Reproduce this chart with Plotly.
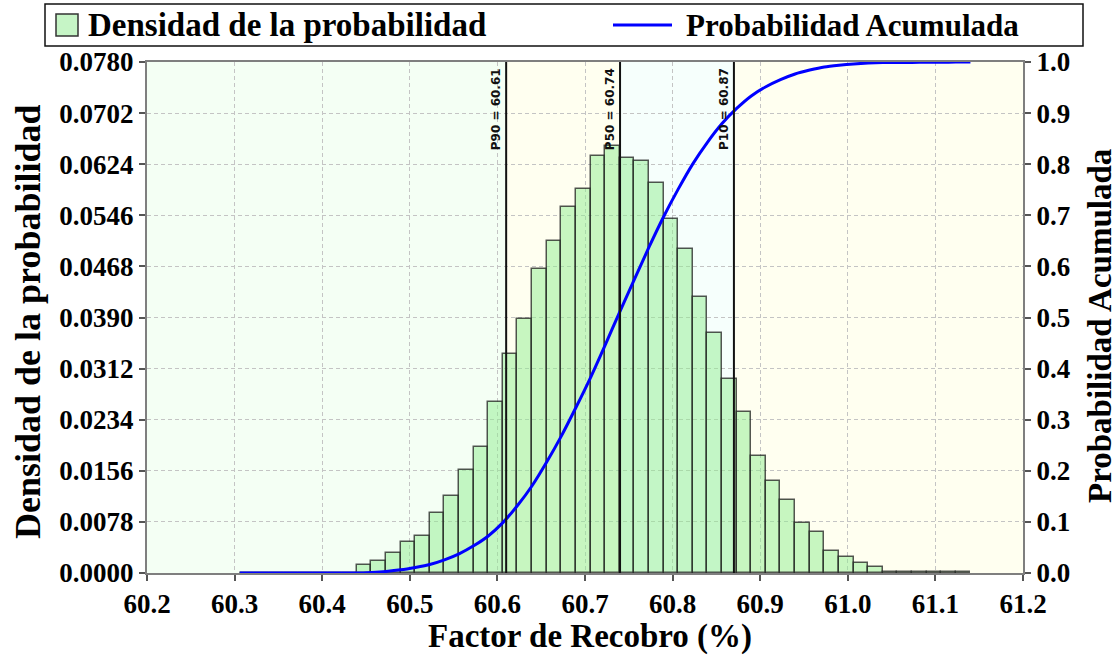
import plotly.graph_objects as go

# Histogram of the recovery factor (50 equal bins starting at the sample minimum)
x_min = 60.306
bin_width = 0.01668
density = [
    0.0, 0.0, 0.0, 0.0, 0.0, 0.0, 0.0, 0.0,
    0.0012, 0.0019, 0.0031, 0.0047, 0.0057, 0.0091, 0.0118, 0.0157,
    0.0193, 0.0261, 0.0334, 0.0388, 0.0464, 0.0507, 0.0559, 0.0586,
    0.0636, 0.0652, 0.0634, 0.0629, 0.0596, 0.0541, 0.0495, 0.0421,
    0.0367, 0.0296, 0.0245, 0.0179, 0.0140, 0.0111, 0.0076, 0.0062,
    0.0034, 0.0025, 0.0016, 0.0009, 0.0002, 0.0002, 0.0001, 0.0001,
    0.0001, 0.0001,
]
# Cumulative probability at each bin edge
cdf = [
    0.0, 0.0, 0.0, 0.0, 0.0, 0.0, 0.0, 0.0, 0.0,
    0.0012, 0.0031, 0.0062, 0.0109, 0.0166, 0.0257, 0.0375, 0.0532,
    0.0725, 0.0986, 0.1320, 0.1708, 0.2172, 0.2679, 0.3238, 0.3824,
    0.4460, 0.5112, 0.5746, 0.6375, 0.6971, 0.7512, 0.8007, 0.8428,
    0.8795, 0.9091, 0.9336, 0.9515, 0.9655, 0.9766, 0.9842, 0.9904,
    0.9938, 0.9963, 0.9979, 0.9988, 0.9990, 0.9992, 0.9994, 0.9996,
    0.9998, 1.0,
]

percentile_names = ["P90", "P50", "P10"]
percentile_values = [60.61, 60.74, 60.87]

x_ticks = [60.2, 60.3, 60.4, 60.5, 60.6, 60.7, 60.8, 60.9, 61.0, 61.1, 61.2]
density_ticks = ["0.0000", "0.0078", "0.0156", "0.0234", "0.0312", "0.0390",
                 "0.0468", "0.0546", "0.0624", "0.0702", "0.0780"]
cdf_ticks = ["0.0", "0.1", "0.2", "0.3", "0.4", "0.5", "0.6", "0.7", "0.8", "0.9", "1.0"]

# Shaded zones between the percentile lines
zone_colors = ["#f4fff4", "#fffff0", "#f6fffc", "#fffff0"]

SERIF = "Liberation Serif"
SANS = "DejaVu Sans"
BAR_FILL = "rgba(144,238,144,0.5)"
BAR_EDGE = "rgba(30,30,30,0.75)"
CDF_COLOR = "#0000ff"
GRID = dict(showgrid=True, gridcolor="#c4c4c4", griddash="4px,3px", gridwidth=1)

centers = [x_min + (k + 0.5) * bin_width for k in range(len(density))]
edges = [x_min + k * bin_width for k in range(len(cdf))]

fig = go.Figure()
fig.add_trace(go.Bar(
    x=centers, y=density, width=bin_width,
    marker=dict(color=BAR_FILL, line=dict(color=BAR_EDGE, width=1.5)),
    name="Densidad de la probabilidad", showlegend=False, yaxis="y",
))
fig.add_trace(go.Scatter(
    x=edges, y=cdf, mode="lines", line=dict(color=CDF_COLOR, width=3, shape="spline", smoothing=0.6),
    name="Probabilidad Acumulada", showlegend=False, yaxis="y2",
))

x_lo, x_hi = x_ticks[0], x_ticks[-1]
bounds = [x_lo] + percentile_values + [x_hi]
shapes = []
for i, col in enumerate(zone_colors):
    shapes.append(dict(type="rect", xref="x", yref="paper", x0=bounds[i], x1=bounds[i + 1],
                       y0=0, y1=1, fillcolor=col, line=dict(width=0), layer="below"))
annotations = []
for name, val in zip(percentile_names, percentile_values):
    shapes.append(dict(type="line", xref="x", yref="paper", x0=val, x1=val, y0=0, y1=1,
                       line=dict(color="#111111", width=2), layer="above"))
    annotations.append(dict(text=f"{name} = {val:.2f}", x=val, xref="x", y=0.992, yref="paper",
                            xanchor="right", yanchor="top", textangle=-90, showarrow=False,
                            xshift=-1, font=dict(family=SANS, size=12, color="#111111", weight="bold")))

# Legend box drawn in paper coordinates
PW, PH, L, T = 876.0, 511.0, 147.0, 62.0
def px(x):
    return (x - L) / PW
def py(y):
    return (T + PH - y) / PH

shapes.append(dict(type="rect", xref="paper", yref="paper", x0=px(45), x1=px(1083), y0=py(46), y1=py(4),
                   line=dict(color="#111111", width=1.5), fillcolor="white", layer="above"))
shapes.append(dict(type="rect", xref="paper", yref="paper", x0=px(56), x1=px(78), y0=py(36), y1=py(14),
                   line=dict(color="#333333", width=1.5), fillcolor="#c6f5c6", layer="above"))
shapes.append(dict(type="line", xref="paper", yref="paper", x0=px(613), x1=px(672), y0=py(25), y1=py(25),
                   line=dict(color=CDF_COLOR, width=3), layer="above"))
annotations.append(dict(text="Densidad de la probabilidad", xref="paper", yref="paper", x=px(86), y=py(25),
                        xanchor="left", yanchor="middle", showarrow=False,
                        font=dict(family=SERIF, size=33, color="black", weight="bold")))
annotations.append(dict(text="Probabilidad Acumulada", xref="paper", yref="paper", x=px(684), y=py(25),
                        xanchor="left", yanchor="middle", showarrow=False,
                        font=dict(family=SERIF, size=31, color="black", weight="bold")))

# Axis titles
annotations.append(dict(text="Factor de Recobro (%)", xref="paper", yref="paper", x=px(590), y=py(636),
                        xanchor="center", yanchor="middle", showarrow=False,
                        font=dict(family=SERIF, size=33, color="black", weight="bold")))
annotations.append(dict(text="Densidad de la probabilidad", xref="paper", yref="paper", x=px(28), y=py(322),
                        xanchor="center", yanchor="middle", textangle=-90, showarrow=False,
                        font=dict(family=SERIF, size=36, color="black", weight="bold")))
annotations.append(dict(text="Probabilidad Acumulada", xref="paper", yref="paper", x=px(1100), y=py(326),
                        xanchor="center", yanchor="middle", textangle=-90, showarrow=False,
                        font=dict(family=SERIF, size=33, color="black", weight="bold")))

tick_font = dict(family=SERIF, size=27, color="black", weight="bold")
axis_line = dict(showline=True, linecolor="#7f7f7f", linewidth=2, ticks="outside", ticklen=6,
                 tickcolor="#555555", tickwidth=1.5, tickfont=tick_font, zeroline=False)

fig.update_layout(
    width=1120, height=655,
    margin=dict(l=147, r=97, t=62, b=82),
    paper_bgcolor="white", plot_bgcolor="white",
    bargap=0, showlegend=False,
    xaxis=dict(range=[x_lo, x_hi], tickvals=x_ticks, ticktext=[f"{v:.1f}" for v in x_ticks],
               mirror=True, **GRID, **axis_line),
    yaxis=dict(range=[0, 0.078], tickvals=[float(t) for t in density_ticks], ticktext=density_ticks,
               **GRID, **axis_line),
    yaxis2=dict(range=[0, 1], tickvals=[float(t) for t in cdf_ticks], ticktext=cdf_ticks,
                overlaying="y", side="right", showgrid=False, **axis_line),
    shapes=shapes, annotations=annotations,
)

fig.write_html("out.html")
